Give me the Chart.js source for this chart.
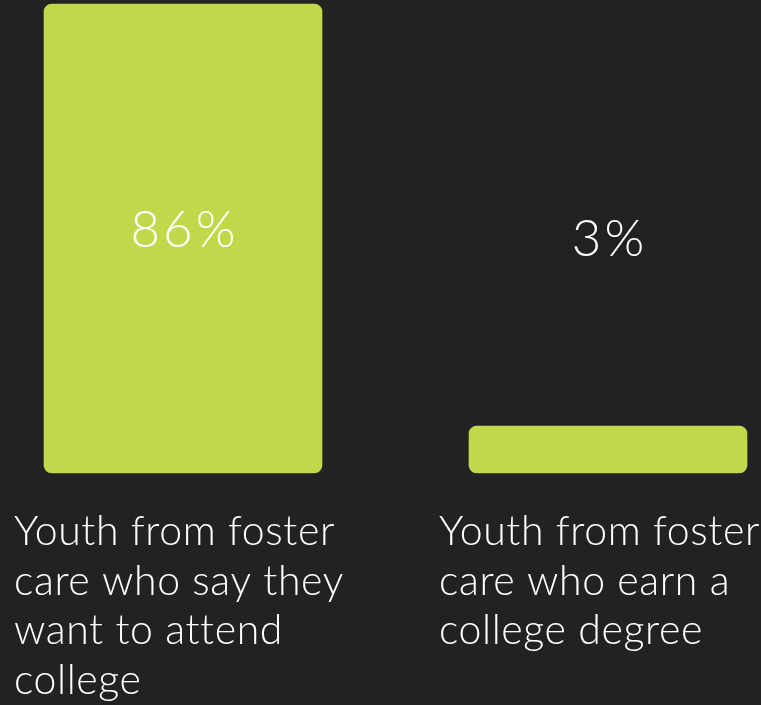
<!DOCTYPE html>
<html>
<head>
    <title>Foster care and college</title>
    <script src="https://cdn.jsdelivr.net/npm/chart.js"></script>
    <style>
        html, body { margin: 0; padding: 0; background: #222222; }
        #wrap { width: 761px; height: 705px; }
    </style>
</head>
<body>
    <div id="wrap"><canvas id="myChart"></canvas></div>
    <script>
        // data
        var categories = [
            ['Youth from foster', 'care who say they', 'want to attend', 'college'],
            ['Youth from foster', 'care who earn a', 'college degree']
        ];
        var values = [86, 3];
        var valueLabels = ['86%', '3%'];

        var barColor = '#bfd94a';
        var textColor = '#ffffff';
        var fontFamily = 'Lato, "Noto Sans", sans-serif';

        // value labels and wrapped category names
        var labelPlugin = {
            id: 'labels',
            afterDatasetsDraw: function(chart) {
                var ctx = chart.ctx;
                var meta = chart.getDatasetMeta(0);
                var area = chart.chartArea;
                var valueY = [231, 240];
                ctx.save();
                ctx.fillStyle = textColor;
                meta.data.forEach(function(bar, i) {
                    ctx.font = '300 51px ' + fontFamily;
                    ctx.letterSpacing = '3px';
                    ctx.textAlign = 'center';
                    ctx.textBaseline = 'middle';
                    ctx.fillText(valueLabels[i], bar.x + 1.5, valueY[i]);

                    ctx.font = '300 41px ' + fontFamily;
                    ctx.letterSpacing = '0.6px';
                    ctx.textAlign = 'left';
                    ctx.textBaseline = 'alphabetic';
                    var left = bar.x - 169;
                    categories[i].forEach(function(line, j) {
                        ctx.fillText(line, left, area.bottom + 72 + j * 49.5);
                    });
                });
                ctx.restore();
            }
        };

        var ctx = document.getElementById('myChart').getContext('2d');
        var chart = new Chart(ctx, {
            type: 'bar',
            data: {
                labels: categories,
                datasets: [{
                    data: values,
                    backgroundColor: barColor,
                    borderRadius: 8,
                    borderSkipped: false,
                    barThickness: 278,
                    minBarLength: 47,
                    clip: false
                }]
            },
            options: {
                responsive: true,
                maintainAspectRatio: false,
                animation: false,
                layout: {
                    padding: { top: 4, bottom: 232, left: 183, right: 153 }
                },
                plugins: {
                    legend: { display: false },
                    tooltip: { enabled: false }
                },
                scales: {
                    x: { display: false, offset: false },
                    y: { display: false, min: 0, max: Math.max.apply(null, values) }
                }
            },
            plugins: [labelPlugin]
        });
    </script>
</body>
</html>
